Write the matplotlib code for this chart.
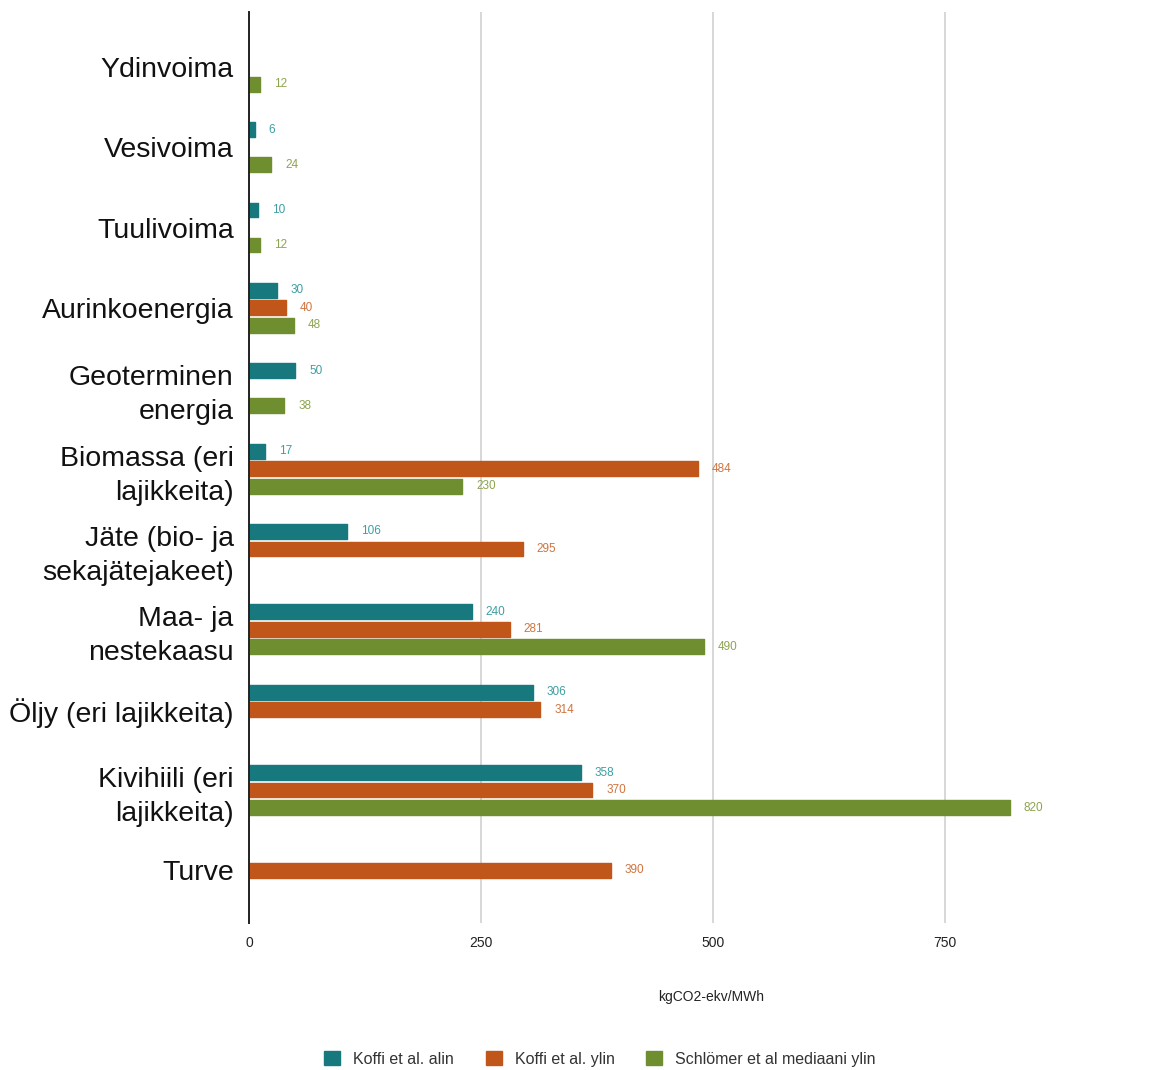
import numpy as np
import matplotlib.pyplot as plt
from matplotlib.patches import Patch

plt.rcParams['font.family'] = ['Liberation Sans', 'DejaVu Sans']

categories = ["Ydinvoima", "Vesivoima", "Tuulivoima", "Aurinkoenergia",
              "Geoterminen\nenergia", "Biomassa (eri\nlajikkeita)",
              "Jäte (bio- ja\nsekajätejakeet)", "Maa- ja\nnestekaasu",
              "Öljy (eri lajikkeita)", "Kivihiili (eri\nlajikkeita)", "Turve"]
koffi_alin = [None, 6, 10, 30, 50, 17, 106, 240, 306, 358, None]
koffi_ylin = [None, None, None, 40, None, 484, 295, 281, 314, 370, 390]
schlomer = [12, 24, 12, 48, 38, 230, None, 490, None, 820, None]

series = ["Koffi et al. alin", "Koffi et al. ylin", "Schlömer et al mediaani ylin"]
colors = ["#17797d", "#c1561b", "#6f8e2f"]
label_colors = ["#3e9ea2", "#cf7440", "#8da44f"]

fig = plt.figure(figsize=(11.69, 10.70), dpi=100)
ax = fig.add_axes([0.213, 0.137, 0.738, 0.852])

y = np.arange(len(categories))
slot = 0.218
for i, (vals, c, lc) in enumerate(zip([koffi_alin, koffi_ylin, schlomer], colors, label_colors)):
    off = (i - 1) * slot
    for yi, v in zip(y, vals):
        if v is None:
            continue
        ax.barh(yi + off, v, height=0.185, color=c, edgecolor=c, linewidth=1,
                joinstyle='round', zorder=3)
        ax.annotate(str(v), (v, yi + off), xytext=(10, 0), textcoords='offset points',
                    va='center', ha='left', fontsize=8.5, color=lc)

ax.set_xlim(0, 930)
ax.set_ylim(10.66, -0.685)
ax.set_yticks(y)
ax.set_yticklabels(categories, fontsize=20.5, linespacing=1.4)
ax.set_xticks([0, 250, 500, 750])
ax.tick_params(axis='x', length=0, labelsize=10, pad=9, labelcolor='#222222')
ax.tick_params(axis='y', length=0, pad=11, labelcolor='#111111')
ax.grid(axis='x', color='#d4d4d4', linewidth=1.3, zorder=0)
for s in ['top', 'right', 'bottom']:
    ax.spines[s].set_visible(False)
ax.spines['left'].set_linewidth(1.4)
ax.spines['left'].set_color('#222222')
ax.spines['left'].set_zorder(4)

fig.text(711 / 1169, 1 - 997 / 1070, "kgCO2-ekv/MWh", ha='center', va='center',
         fontsize=10, color='#222222')

handles = [Patch(facecolor=c, edgecolor=c, label=s) for s, c in zip(series, colors)]
fig.legend(handles=handles, loc='center', bbox_to_anchor=(600 / 1169, 1 - 1059 / 1070),
           ncol=3, frameon=False, fontsize=11.5, handlelength=1.0, handleheight=1.0,
           columnspacing=2.0, handletextpad=0.8, labelcolor='#333333')

fig.savefig("out.png", dpi=100)
